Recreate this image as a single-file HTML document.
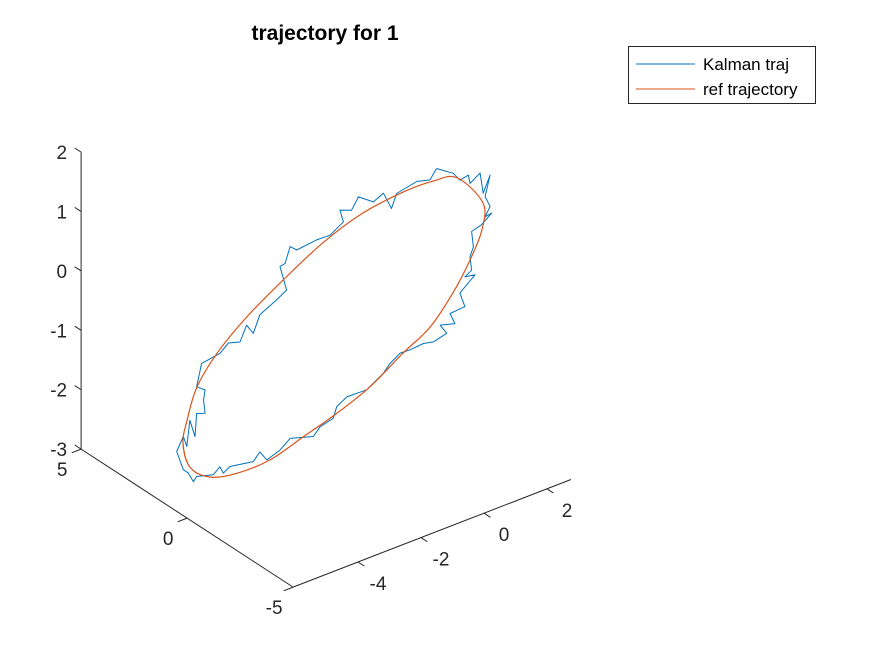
<!DOCTYPE html>
<html><head><meta charset="utf-8"><style>
body{margin:0;background:#fff}
svg{display:block;font-family:"Liberation Sans",Arial,sans-serif}
</style></head><body>
<svg id="chart" width="875" height="656" viewBox="0 0 875 656" xmlns="http://www.w3.org/2000/svg">
<rect width="875" height="656" fill="#fff"/>
<text x="325" y="40" text-anchor="middle" font-size="21" font-weight="bold" fill="#000">trajectory for 1</text>
<g id="axes"></g>
<g id="series"></g>
<g>
<rect x="628.5" y="46.5" width="187" height="57" fill="#fff" stroke="#262626" stroke-width="1"/>
<line x1="636" y1="64" x2="695" y2="64" stroke="#0072BD" stroke-width="1"/>
<text x="703" y="70" font-size="17" fill="#000">Kalman traj</text>
<line x1="636" y1="89" x2="695" y2="89" stroke="#D95319" stroke-width="1"/>
<text x="703" y="95" font-size="17" fill="#000">ref trajectory</text>
</g>
</svg>
<script>
const xTicks=[-4,-2,0,2];
const yTicks=[-5,0,5];
const zTicks=[-3,-2,-1,0,1,2];
const refX=[2.51,3.33,3.30,2.92,2.38,1.65,0.79,-0.25,-1.30,-2.38,-3.43,-4.48,-5.33,-5.97,-6.19,-6.06,-5.75,-5.11,-4.16,-3.02,-1.75,-0.48,0.79,1.75];
const refZ=[0.97,0.38,-0.07,-0.50,-0.94,-1.37,-1.63,-1.98,-2.21,-2.39,-2.56,-2.57,-2.46,-2.16,-1.71,-1.35,-0.86,-0.42,0.00,0.38,0.75,0.99,1.08,1.07];
const kalX=[1.86,2.39,2.60,2.87,2.92,3.24,3.34,3.56,3.40,3.56,3.40,3.61,3.29,2.97,3.03,2.92,2.97,2.76,3.08,2.60,2.76,2.29,2.44,1.97,2.18,1.76,1.44,1.02,0.70,0.38,0.17,-0.36,-0.99,-1.31,-1.42,-1.84,-2.05,-2.79,-3.11,-3.53,-3.75,-3.96,-4.70,-4.91,-5.02,-5.23,-5.76,-5.86,-6.02,-6.18,-6.39,-6.18,-6.07,-5.97,-5.81,-5.76,-5.49,-5.54,-5.49,-5.76,-5.60,-5.02,-4.75,-4.38,-4.17,-3.96,-3.75,-3.22,-2.90,-3.11,-2.95,-2.79,-2.58,-1.95,-1.52,-1.10,-1.21,-0.84,-0.62,-0.15,0.17,0.43,0.59,1.23,1.65,1.86];
const kalZ=[1.26,1.07,0.91,0.94,0.79,0.90,0.54,0.80,0.47,0.27,0.13,0.15,0.02,-0.03,-0.30,-0.44,-0.68,-0.75,-0.78,-0.99,-1.25,-1.27,-1.47,-1.40,-1.58,-1.64,-1.60,-1.62,-1.61,-1.72,-1.84,-2.01,-2.00,-2.10,-2.27,-2.33,-2.45,-2.33,-2.46,-2.54,-2.36,-2.48,-2.41,-2.48,-2.35,-2.44,-2.36,-2.43,-2.25,-2.16,-1.81,-1.60,-1.79,-1.37,-1.68,-1.30,-1.35,-1.12,-0.96,-0.85,-0.49,-0.44,-0.32,-0.38,-0.14,-0.32,-0.05,0.09,0.19,0.63,0.65,0.90,0.80,0.84,0.83,0.97,1.19,1.11,1.29,1.11,1.19,0.88,1.10,1.17,1.11,1.26];

const XMIN=-6.06,XMAX=2.76,YMIN=-5,YMAX=5,ZMIN=-3,ZMAX=2;
function P(x,y,z){return [378+31.5*x-21.2*y, 266-12.2*x-13.8*y-59.4*z];}
const NS='http://www.w3.org/2000/svg';
const axes=document.getElementById('axes'),series=document.getElementById('series');
function mk(tag,attrs,parent){const e=document.createElementNS(NS,tag);for(const k in attrs)e.setAttribute(k,attrs[k]);parent.appendChild(e);return e;}
function line(a,b,parent){return mk('line',{x1:a[0],y1:a[1],x2:b[0],y2:b[1],stroke:'#262626','stroke-width':1},parent);}

let el;
el=line(P(XMIN,YMAX,ZMIN),P(XMIN,YMAX,ZMAX),axes);


el=line(P(XMIN,YMAX,ZMIN),P(XMIN,YMIN,ZMIN),axes);


el=line(P(XMIN,YMIN,ZMIN),P(XMAX,YMIN,ZMIN),axes);



zTicks.forEach(v=>{
  const a=P(XMIN,YMAX,v),b=P(XMIN,YMAX+0.3,v);
  el=line(a,b,axes);
  
  
  el=mk('text',{x:a[0]-14,y:a[1]+7,'text-anchor':'end','font-size':19,fill:'#262626'},axes);
  el.textContent=v;
  
  
});
yTicks.forEach(v=>{
  const a=P(XMIN,v,ZMIN),b=P(XMIN-0.3,v,ZMIN);
  el=line(a,b,axes);
  
  
  el=mk('text',{x:a[0]-19,y:a[1]+27,'text-anchor':'middle','font-size':19,fill:'#262626'},axes);
  el.textContent=v;
  
  
});
xTicks.forEach(v=>{
  const a=P(v,YMIN,ZMIN),b=P(v,YMIN-0.3,ZMIN);
  el=line(a,b,axes);
  
  
  el=mk('text',{x:a[0]+20,y:a[1]+28,'text-anchor':'middle','font-size':19,fill:'#262626'},axes);
  el.textContent=v;
  
  
});

const kp=kalX.map((x,i)=>P(x,0,kalZ[i]).map(n=>n.toFixed(1)).join(',')).join(' ');
el=mk('polyline',{points:kp,fill:'none',stroke:'#0072BD','stroke-width':1,'stroke-linejoin':'round'},series);



const rp=refX.map((x,i)=>P(x,0,refZ[i]));
const n=rp.length;let d='M'+rp[0][0]+','+rp[0][1];
for(let i=0;i<n;i++){
  const p0=rp[(i-1+n)%n],p1=rp[i],p2=rp[(i+1)%n],p3=rp[(i+2)%n];
  const c1=[p1[0]+(p2[0]-p0[0])/6,p1[1]+(p2[1]-p0[1])/6];
  const c2=[p2[0]-(p3[0]-p1[0])/6,p2[1]-(p3[1]-p1[1])/6];
  d+=' C'+c1.join(',')+' '+c2.join(',')+' '+p2.join(',');
}
el=mk('path',{d:d+'Z',fill:'none',stroke:'#D95319','stroke-width':1.2},series);


</script>
</body></html>
